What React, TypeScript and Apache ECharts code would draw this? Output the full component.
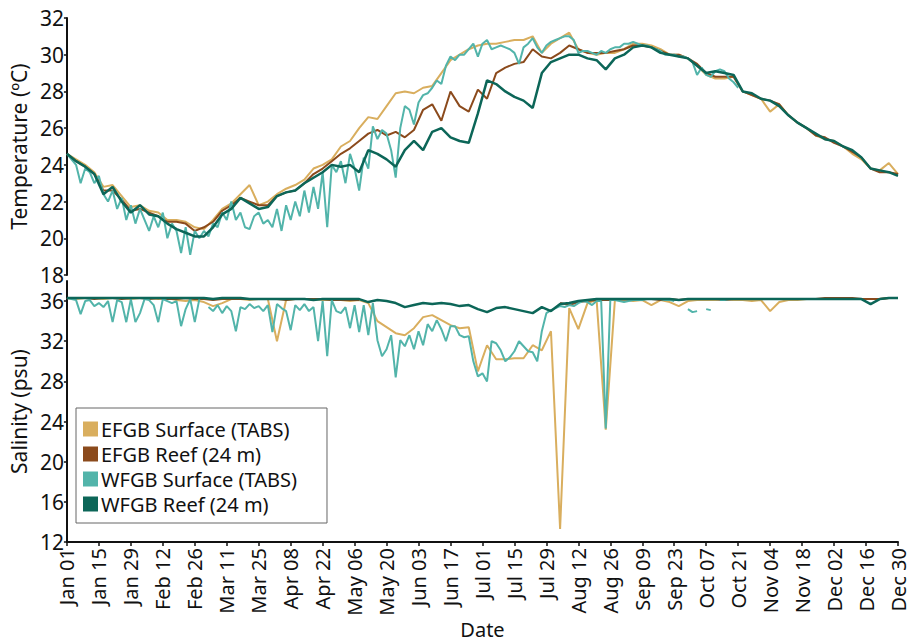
import React, { useEffect, useRef } from "react";
import * as echarts from "echarts";

// ---- Data ----
const START_DAY = 0;
const END_DAY = 364;
const TICK_STEP_DAYS = 14;
const COARSE_STEP = 4; // days between values in the reef / EFGB surface series
const FINE_STEP = 2; // days between values in the WFGB surface series

const tickLabels = [
  "Jan 01", "Jan 15", "Jan 29", "Feb 12", "Feb 26", "Mar 11", "Mar 25", "Apr 08", "Apr 22",
  "May 06", "May 20", "Jun 03", "Jun 17", "Jul 01", "Jul 15", "Jul 29", "Aug 12", "Aug 26",
  "Sep 09", "Sep 23", "Oct 07", "Oct 21", "Nov 04", "Nov 18", "Dec 02", "Dec 16", "Dec 30",
];

const seriesNames = ["EFGB Surface (TABS)", "EFGB Reef (24 m)", "WFGB Surface (TABS)", "WFGB Reef (24 m)"];

// Temperature (°C)
const efgbSurfTemp = [
  24.6, 24.3, 24.0, 23.6, 22.8, 22.9, 22.3, 21.7, 21.8, 21.5,
  21.4, 21.0, 21.0, 20.9, 20.6, 20.5, 21.0, 21.6, 21.9, 22.4,
  22.9, 21.8, 22.0, 22.4, 22.7, 22.9, 23.2, 23.8, 24.0, 24.3,
  25.0, 25.3, 26.0, 26.6, 26.5, 27.2, 27.9, 28.0, 27.9, 28.2,
  28.3, 29.0, 29.7, 30.0, 30.3, 30.5, 30.6, 30.6, 30.7, 30.8,
  30.8, 31.0, 30.1, 30.6, 30.9, 31.2, 30.3, 30.1, 30.0, 30.1,
  30.1, 30.3, 30.6, 30.6, 30.5, 30.3, 30.0, 30.0, 29.8, 29.4,
  28.9, 28.7, 28.7, 28.8, 28.0, 27.8, 27.6, 26.9, 27.3, 26.7,
  26.3, 26.0, 25.6, 25.4, 25.3, 25.0, 24.6, 24.3, 23.8, 23.7,
  24.1, 23.5,
];
const efgbReefTemp = [
  24.6, 24.2, 23.9, 23.5, 22.6, 22.6, 22.1, 21.5, 21.6, 21.4,
  21.2, 20.9, 20.9, 20.8, 20.4, 20.6, 20.9, 21.5, 21.8, 22.2,
  22.0, 21.8, 21.8, 22.3, 22.5, 22.6, 23.0, 23.5, 23.8, 24.2,
  24.6, 24.9, 25.3, 25.7, 25.9, 25.6, 25.8, 25.5, 25.9, 27.0,
  27.3, 26.4, 28.0, 27.2, 26.9, 28.1, 27.6, 29.0, 29.3, 29.5,
  29.6, 30.3, 29.9, 29.8, 30.1, 30.5, 30.3, 30.1, 30.1, 30.1,
  30.2, 30.3, 30.5, 30.5, 30.4, 30.2, 30.0, 30.0, 29.8, 29.5,
  29.0, 28.8, 28.8, 28.8, 28.0, 27.8, 27.6, 27.5, 27.3, 26.7,
  26.3, 26.0, 25.6, 25.5, 25.2, 25.0, 24.7, 24.4, 23.8, 23.6,
  23.6, 23.5,
];
const wfgbSurfTemp = [
  24.6, 24.3, 24.0, 23.0, 23.8, 23.6, 23.0, 23.4, 22.4, 22.0,
  22.6, 21.6, 22.2, 21.0, 21.8, 20.8, 21.6, 21.0, 20.4, 21.2,
  20.6, 21.4, 20.0, 20.8, 20.4, 19.2, 20.6, 19.1, 20.4, 20.0,
  20.4, 20.1, 20.8, 20.6, 21.4, 21.0, 22.0, 21.0, 21.4, 20.6,
  20.5, 21.2, 21.4, 20.8, 21.0, 20.6, 21.6, 20.4, 21.8, 21.0,
  22.0, 21.2, 22.6, 21.4, 22.8, 21.6, 23.6, 20.6, 24.0, 23.6,
  24.2, 23.0, 24.6, 23.8, 22.6, 24.4, 23.8, 26.1, 25.4, 25.9,
  25.7, 24.8, 23.3, 26.0, 27.2, 27.0, 26.2, 27.4, 27.8, 27.9,
  28.2, 28.6, 28.4, 29.4, 29.9, 29.7, 30.0, 30.0, 30.3, 30.6,
  29.9, 30.6, 30.8, 30.3, 30.4, 30.5, 30.4, 30.3, 30.1, 29.5,
  30.4, 30.6, 30.9, 30.4, 30.1, 30.5, 30.7, 30.8, 30.9, 31.0,
  31.0, 30.8, 30.1, 30.2, 30.2, 30.1, 30.0, 30.2, 30.1, 30.3,
  30.4, 30.4, 30.6, 30.6, 30.7, 30.6, 30.5, 30.5, 30.4, 30.3,
  30.2, 30.0, 30.0, 30.0, 29.9, 29.9, 29.8, 29.6, 28.9, 29.3,
  28.9, 28.8, 29.1, 29.2, 29.1, 28.7, 28.5, 28.2, null,
];
const wfgbReefTemp = [
  24.6, 24.2, 23.9, 23.5, 22.4, 22.8, 22.0, 21.4, 21.8, 21.3,
  21.2, 20.8, 20.5, 20.3, 20.1, 20.1, 20.6, 21.3, 21.6, 22.2,
  21.9, 21.6, 21.7, 22.3, 22.5, 22.6, 23.0, 23.3, 23.6, 24.0,
  23.9, 24.0, 23.6, 24.8, 24.6, 24.3, 23.9, 24.8, 25.3, 24.8,
  25.8, 26.0, 25.5, 25.3, 25.2, 26.8, 28.6, 28.4, 28.0, 27.7,
  27.5, 27.1, 29.0, 29.6, 29.8, 30.0, 30.0, 29.8, 29.7, 29.2,
  29.8, 30.0, 30.4, 30.5, 30.4, 30.1, 30.0, 29.9, 29.8, 29.4,
  29.0, 29.1, 29.0, 28.9, 28.0, 27.9, 27.6, 27.5, 27.2, 26.7,
  26.3, 26.0, 25.7, 25.4, 25.3, 25.0, 24.8, 24.4, 23.8, 23.7,
  23.6, 23.4,
];

// Salinity (psu)
const efgbSurfSal = [
  36.3, 36.2, 36.3, 36.3, 36.2, 36.3, 36.3, 36.2, 36.3, 36.3,
  36.2, 36.3, 36.1, 36.0, 36.1, 35.9, 35.5, 35.8, 36.2, 36.2,
  36.1, 36.2, 36.2, 32.0, 36.1, 36.2, 36.2, 36.2, 36.1, 36.1,
  36.1, 36.0, 36.1, 35.8, 34.0, 33.4, 32.8, 32.6, 33.3, 34.4,
  34.6, 34.1, 33.6, 33.3, 33.4, 29.0, 31.6, 30.2, 30.2, 30.3,
  30.3, 31.6, 31.1, 33.0, 13.3, 35.3, 33.2, 35.8, 36.1, 23.2,
  36.1, 36.1, 36.0, 36.1, 35.6, 36.1, 35.9, 35.5, 36.0, 36.1,
  36.1, 36.1, 36.2, 36.1, 36.1, 36.0, 36.1, 35.0, 35.9, 36.1,
  36.1, 36.2, 36.2, 36.2, 36.2, 36.2, 36.2, 36.2, 36.2, 36.2,
  36.3, 36.3,
];
const efgbReefSal = [
  36.3, 36.3, 36.3, 36.2, 36.3, 36.3, 36.2, 36.3, 36.3, 36.2,
  36.3, 36.2, 36.2, 36.3, 36.2, 36.2, 36.1, 36.2, 36.2, 36.2,
  36.2, 36.2, 36.2, 36.2, 36.1, 36.2, 36.2, 36.2, 36.2, 36.1,
  36.1, 36.1, 36.1, null, null, null, null, null, null, null,
  null, null, null, null, null, null, null, null, null, null,
  null, null, null, null, 35.8, 35.6, 35.9, 36.0, 36.1, 36.1,
  36.1, 36.2, 36.1, 36.2, 36.2, 36.1, 36.2, 36.1, 36.2, 36.2,
  36.2, 36.2, 36.1, 36.2, 36.2, 36.2, 36.2, 36.2, 36.2, 36.2,
  36.2, 36.2, 36.2, 36.3, 36.3, 36.3, 36.3, 36.2, 36.2, 36.2,
  36.3, 36.3,
];
const wfgbSurfSal = [
  36.3, 36.2, 36.1, 34.7, 36.0, 36.1, 35.5, 35.8, 35.4, 36.0,
  33.9, 36.1, 35.9, 33.9, 36.2, 33.9, 34.8, 36.2, 36.1, 35.6,
  33.9, 36.2, 36.0, 35.8, 36.0, 33.5, 35.2, 36.2, 33.9, 36.2,
  null, 35.4, 35.0, 35.6, 34.8, 35.5, 35.0, 33.0, 35.4, 35.2,
  35.7, 35.3, 35.5, 35.0, 35.6, 32.9, 35.7, 35.3, 35.0, 33.1,
  35.6, 35.1, 35.7, 35.0, 35.4, 32.0, 36.0, 30.5, 36.1, 35.0,
  34.8, 35.4, 33.3, 35.6, 32.9, 35.6, 32.6, 35.8, 32.1, 30.5,
  31.2, 32.6, 28.4, 32.1, 31.5, 32.6, 31.2, 33.0, 31.6, 33.7,
  33.0, 34.1, 33.2, 32.0, 33.5, 33.5, 32.6, 32.4, 32.5, 30.0,
  28.5, 28.8, 28.0, 32.0, 31.8, 31.1, 30.0, 30.4, 31.0, 32.0,
  31.5, 31.0, 30.9, 30.0, 33.0, 34.8, 35.1, 35.3, 35.5, 35.4,
  35.6, 35.5, 35.8, 36.0, 35.9, 35.6, 36.0, 36.0, 23.3, 36.1,
  36.1, 36.0, 35.9, 36.0, 36.1, 36.1, 36.1, 36.2, 36.2, 36.2,
  36.2, 36.1, 36.1, 36.0, null, null, 35.2, 34.9, 35.0, null,
  35.2, 35.1, null, 36.1, 36.1, 36.2, 36.2, 36.2, 36.2,
];
const wfgbReefSal = [
  36.3, 36.3, 36.3, 36.3, 36.3, 36.3, 36.3, 36.3, 36.3, 36.3,
  36.3, 36.3, 36.3, 36.3, 36.3, 36.3, 36.2, 36.3, 36.3, 36.3,
  36.2, 36.2, 36.2, 36.2, 36.2, 36.2, 36.2, 36.1, 36.2, 36.2,
  36.2, 36.2, 36.2, 35.9, 36.1, 36.0, 35.8, 35.4, 35.6, 35.8,
  35.7, 35.8, 35.7, 35.5, 35.6, 35.2, 34.9, 35.3, 35.4, 35.2,
  35.0, 34.8, 35.4, 35.0, 35.7, 35.8, 36.0, 36.1, 36.2, 36.2,
  36.2, 36.2, 36.2, 36.2, 36.2, 36.2, 36.2, 36.1, 36.2, 36.2,
  36.2, 36.2, 36.2, 36.2, 36.2, 36.2, 36.2, 36.2, 36.2, 36.2,
  36.2, 36.2, 36.2, 36.2, 36.2, 36.2, 36.2, 36.2, 35.7, 36.2,
  36.3, 36.3,
];

const colors = ["#D9AE5E", "#8B4A1C", "#52B4AA", "#0C6658"];

// ---- Helpers ----
const toPairs = (vals: (number | null)[], step: number) =>
  vals.map((v, i) => [i * step, v]);

const FONT = "Noto Sans";

export default function App() {
  const ref = useRef<HTMLDivElement>(null);

  useEffect(() => {
    if (!ref.current) return;
    const chart = echarts.init(ref.current, null, { renderer: "svg" });

    const gridLeft = 63;
    const gridRight = 20;

    const mkLine = (
      idx: number,
      data: (number | null)[],
      step: number,
      axis: number,
      width: number
    ) => ({
      name: seriesNames[idx],
      type: "line",
      xAxisIndex: axis,
      yAxisIndex: axis,
      data: toPairs(data, step),
      showSymbol: false,
      symbol: "none",
      connectNulls: false,
      lineStyle: { color: colors[idx], width },
      itemStyle: { color: colors[idx] },
      z: 2 + idx,
    });

    const yAxisCommon = {
      type: "value",
      axisLine: { show: true, onZero: false, lineStyle: { color: "#111", width: 2 } },
      axisTick: { show: true, length: 3, lineStyle: { color: "#111", width: 1.5 } },
      axisLabel: { color: "#111", fontSize: 21, fontFamily: FONT, margin: 3 },
      splitLine: { show: false },
      nameLocation: "middle",
      nameTextStyle: { color: "#111", fontSize: 21, fontFamily: FONT },
    };

    chart.setOption({
      animation: false,
      backgroundColor: "#ffffff",
      textStyle: { fontFamily: FONT },
      grid: [
        { left: gridLeft, right: gridRight, top: 18, height: 257 },
        { left: gridLeft, right: gridRight, top: 281, height: 261 },
      ],
      xAxis: [
        {
          type: "value",
          gridIndex: 0,
          min: START_DAY,
          max: END_DAY,
          interval: TICK_STEP_DAYS,
          show: false,
          splitLine: { show: false },
        },
        {
          type: "value",
          gridIndex: 1,
          min: START_DAY,
          max: END_DAY,
          interval: TICK_STEP_DAYS,
          axisLine: { show: true, onZero: false, lineStyle: { color: "#111", width: 2 } },
          axisTick: { show: true, length: 4, lineStyle: { color: "#111", width: 1.5 } },
          axisLabel: {
            color: "#111",
            fontSize: 20,
            fontFamily: FONT,
            rotate: 90,
            margin: 6,
            formatter: (v: number) => tickLabels[Math.round(v / TICK_STEP_DAYS)] ?? "",
          },
          splitLine: { show: false },
          name: "Date",
          nameLocation: "middle",
          nameGap: 74,
          nameTextStyle: { color: "#111", fontSize: 20, fontFamily: FONT },
        },
      ],
      yAxis: [
        {
          ...yAxisCommon,
          gridIndex: 0,
          min: 18,
          max: 32,
          interval: 2,
          name: "Temperature (ºC)",
          nameGap: 32,
        },
        {
          ...yAxisCommon,
          gridIndex: 1,
          min: 12,
          max: 38,
          interval: 4,
          axisLabel: { ...yAxisCommon.axisLabel, showMaxLabel: false },
          name: "Salinity (psu)",
          nameGap: 32,
        },
      ],
      legend: {
        orient: "vertical",
        left: 76,
        top: 408,
        data: seriesNames,
        icon: "rect",
        itemWidth: 15,
        itemHeight: 15,
        itemGap: 5,
        padding: [11, 30, 9, 7],
        borderColor: "#666",
        borderWidth: 1,
        textStyle: { color: "#111", fontSize: 20, fontFamily: FONT, padding: [0, 0, 0, -2] },
        selectedMode: false,
      },
      series: [
        mkLine(0, efgbSurfTemp, COARSE_STEP, 0, 2),
        mkLine(1, efgbReefTemp, COARSE_STEP, 0, 2),
        mkLine(2, wfgbSurfTemp, FINE_STEP, 0, 2),
        mkLine(3, wfgbReefTemp, COARSE_STEP, 0, 2.5),
        mkLine(0, efgbSurfSal, COARSE_STEP, 1, 2),
        mkLine(1, efgbReefSal, COARSE_STEP, 1, 2),
        mkLine(2, wfgbSurfSal, FINE_STEP, 1, 2),
        mkLine(3, wfgbReefSal, COARSE_STEP, 1, 2.5),
      ],
    });

    return () => chart.dispose();
  }, []);

  return (
    <div
      ref={ref}
      style={{ position: "fixed", left: 0, top: 0, width: 918, height: 644 }}
    />
  );
}
